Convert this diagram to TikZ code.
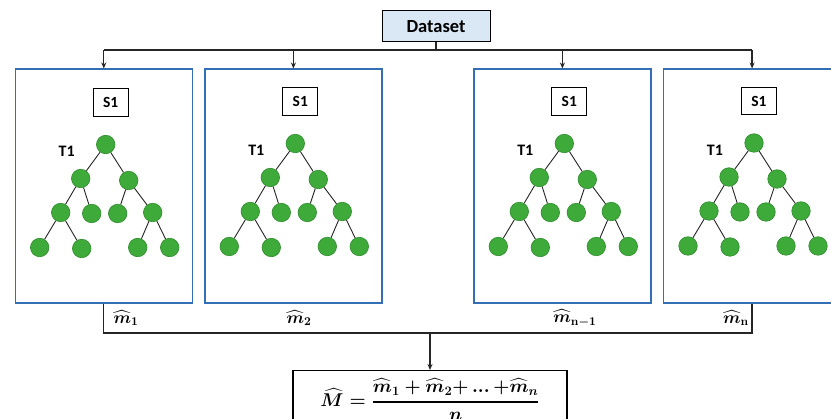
\RequirePackage{fix-cm}
\documentclass[tikz,border=0pt]{standalone}
\usepackage{fontspec}
\usepackage{amsmath}
\usepackage{bm}
\usetikzlibrary{arrows.meta,calc}
\newfontfamily\carlito{Carlito}
\definecolor{panelblue}{RGB}{52,110,180}
\definecolor{leafgreen}{RGB}{62,170,58}
\definecolor{leafedge}{RGB}{48,140,46}
\definecolor{dsfill}{RGB}{218,232,246}
\tikzset{
  panelbox/.style={draw=panelblue, line width=1.2pt, minimum width=177pt, minimum height=234pt, inner sep=0pt, anchor=north west},
  leaf/.style={circle, fill=leafgreen, draw=leafedge, line width=0.6pt, minimum size=18.5pt, inner sep=0pt},
  edge/.style={draw=black!85, line width=0.9pt},
  sbox/.style={draw=black, line width=0.9pt, minimum width=35pt, minimum height=27.5pt, inner sep=0pt, font=\carlito\bfseries\fontsize{15.5}{18}\selectfont},
  tlabel/.style={font=\carlito\bfseries\fontsize{16}{18}\selectfont, inner sep=0pt},
  conn/.style={draw=black!85, line width=1.3pt},
  arr/.style={conn, -{Stealth[length=6pt,width=5pt]}},
  mlabel/.style={inner sep=0pt},
  formbox/.style={draw=black, line width=1.2pt, minimum width=274pt, minimum height=62pt, inner sep=0pt, anchor=north, text height=20pt, text depth=10.5pt},
}
\newcommand\myformula{{\fontsize{18.5}{22}\selectfont\boldmath$\displaystyle \widehat{M}=\genfrac{}{}{1.6pt}{0}{\widehat{m}_1+\widehat{m}_2{+}\mathinner{\ldotp\!\ldotp\!\ldotp}{+}\widehat{m}_n}{n}$}}
\newcommand\mlab[1]{{\fontsize{17}{20}\selectfont\boldmath$\widehat{m}_{\mathbf{#1}}$}}
\newcommand\drawtree[3]{%
\begin{scope}[shift={(#2,#3)}]
  \node[sbox] (#1s) at (96,34) {S1};
  \node[tlabel] (#1t) at (52,83) {T1};
  \node[leaf] (#1r) at (91,76) {};
  \node[leaf] (#1a) at (66,110) {};
  \node[leaf] (#1b) at (114,112) {};
  \node[leaf] (#1aa) at (46,144) {};
  \node[leaf] (#1ab) at (77,145) {};
  \node[leaf] (#1ba) at (103,145) {};
  \node[leaf] (#1bb) at (138,144) {};
  \node[leaf] (#1aaa) at (25,179) {};
  \node[leaf] (#1aab) at (67,180) {};
  \node[leaf] (#1bba) at (123,179) {};
  \node[leaf] (#1bbb) at (155,179) {};
  \draw[edge] (#1r)--(#1a) (#1r)--(#1b)
    (#1a)--(#1aa) (#1a)--(#1ab) (#1b)--(#1ba) (#1b)--(#1bb)
    (#1aa)--(#1aaa) (#1aa)--(#1aab) (#1bb)--(#1bba) (#1bb)--(#1bbb);
\end{scope}}
\begin{document}
\begin{tikzpicture}[x=1pt,y=-1pt]
\useasboundingbox (0,0) rectangle (831,419);
\fill[white] (0,0) rectangle (831,419);
% dataset
\node[draw=black, fill=dsfill, line width=1pt, minimum width=108pt, minimum height=31pt, inner sep=0pt, font=\carlito\bfseries\fontsize{18.5}{21}\selectfont] (dset) at (436,26.5) {Dataset};
% panels
\node[panelbox] (p1) at (14.7,68.5) {};
\node[panelbox] (p2) at (204.3,68.5) {};
\node[panelbox] (p3) at (473.3,68.5) {};
\node[panelbox] (p4) at (663,68.5) {};
\drawtree{ta}{14.7}{68.5}
\drawtree{tb}{204.3}{67.5}
\drawtree{tc}{473.3}{67.5}
\drawtree{td}{663}{67}
% top connectors
\coordinate (j) at (436,50);
\draw[conn] (dset.south) -- (j);
\draw[conn] (j -| p1.north) -- (j -| p4.north);
\draw[arr] (j -| p1.north) -- (p1.north);
\draw[arr] (j -| p2.north) -- (p2.north);
\draw[arr] (j -| p3.north) -- (p3.north);
\draw[arr] (j -| p4.north) -- (p4.north);
% bottom connectors
\coordinate (k) at (430,333);
\draw[conn] (p1.south) -- (p1.south |- k) -- (p4.south |- k) -- (p4.south);
% formula box
\node[formbox] (fb) at (430,370) {{\myformula}};
\draw[arr] (k) -- (fb.north);
% labels
\node[mlabel] (l1) at (126,318) {{\mlab{1}}};
\node[mlabel] (l2) at (299,318) {{\mlab{2}}};
\node[mlabel] (l3) at (575,318) {{\mlab{n-1}}};
\node[mlabel] (l4) at (736,318) {{\mlab{n}}};
\end{tikzpicture}
\end{document}
